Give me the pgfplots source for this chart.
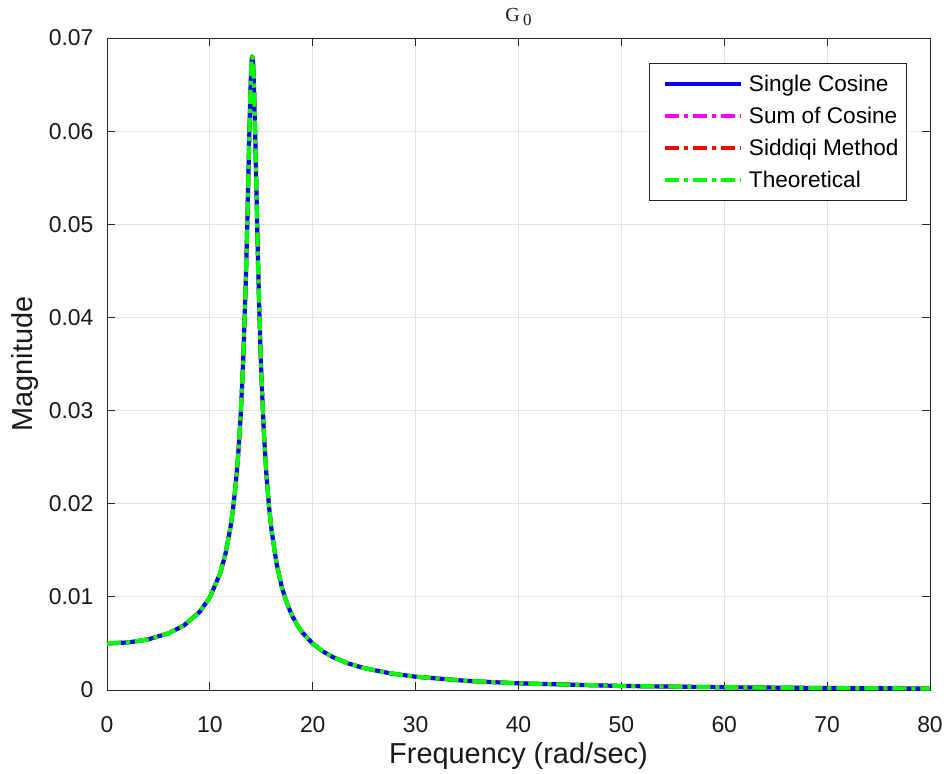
\documentclass[border=0pt]{standalone}
\usepackage{pgfplots}
\pgfplotsset{compat=1.18}
\usepackage{pgfplotstable}
\usepackage{fontspec}
\setmainfont{Liberation Sans}
\newfontfamily\titlefont{Liberation Serif}

% Magnitude of G_0 versus frequency, one column per identification method
\pgfplotstableread{
w      single    sumcos    siddiqi   theory
0      0.005000  0.005000  0.005000  0.005000
2      0.005102  0.005102  0.005102  0.005102
4      0.005433  0.005433  0.005433  0.005433
6      0.006093  0.006093  0.006093  0.006093
7.5    0.006946  0.006946  0.006946  0.006946
9      0.008378  0.008378  0.008378  0.008378
10     0.009946  0.009946  0.009946  0.009946
11     0.012528  0.012528  0.012528  0.012528
11.5   0.014535  0.014535  0.014535  0.014535
12     0.017430  0.017430  0.017430  0.017430
12.25  0.019404  0.019404  0.019404  0.019404
12.5   0.021910  0.021910  0.021910  0.021910
12.75  0.025179  0.025179  0.025179  0.025179
13     0.029568  0.029568  0.029568  0.029568
13.25  0.035644  0.035644  0.035644  0.035644
13.5   0.044187  0.044187  0.044187  0.044187
13.65  0.050728  0.050728  0.050728  0.050728
13.8   0.057990  0.057990  0.057990  0.057990
13.9   0.062613  0.062613  0.062613  0.062613
14     0.066230  0.066230  0.066230  0.066230
14.05  0.067380  0.067380  0.067380  0.067380
14.08  0.067806  0.067806  0.067806  0.067806
14.12  0.068040  0.068040  0.068040  0.068040
14.16  0.067866  0.067866  0.067866  0.067866
14.2   0.067300  0.067300  0.067300  0.067300
14.25  0.066081  0.066081  0.066081  0.066081
14.3   0.064370  0.064370  0.064370  0.064370
14.4   0.059927  0.059927  0.059927  0.059927
14.5   0.054840  0.054840  0.054840  0.054840
14.65  0.047354  0.047354  0.047354  0.047354
14.8   0.040850  0.040850  0.040850  0.040850
15     0.033930  0.033930  0.033930  0.033930
15.25  0.027609  0.027609  0.027609  0.027609
15.5   0.023060  0.023060  0.023060  0.023060
15.75  0.019694  0.019694  0.019694  0.019694
16     0.017120  0.017120  0.017120  0.017120
16.5   0.013466  0.013466  0.013466  0.013466
17     0.011020  0.011020  0.011020  0.011020
17.5   0.009277  0.009277  0.009277  0.009277
18     0.007974  0.007974  0.007974  0.007974
18.5   0.006967  0.006967  0.006967  0.006967
19     0.006165  0.006165  0.006165  0.006165
20     0.004973  0.004973  0.004973  0.004973
21     0.004132  0.004132  0.004132  0.004132
22     0.003510  0.003510  0.003510  0.003510
23.5   0.002832  0.002832  0.002832  0.002832
25     0.002349  0.002349  0.002349  0.002349
27.5   0.001795  0.001795  0.001795  0.001795
30     0.001427  0.001427  0.001427  0.001427
35     0.000975  0.000975  0.000975  0.000975
40     0.000714  0.000714  0.000714  0.000714
50     0.000435  0.000435  0.000435  0.000435
60     0.000294  0.000294  0.000294  0.000294
70     0.000213  0.000213  0.000213  0.000213
80     0.000161  0.000161  0.000161  0.000161
}\gzerodata

\definecolor{axgray}{gray}{0.15}
\definecolor{gridgray}{gray}{0.89}
\definecolor{cblue}{RGB}{0,0,255}
\definecolor{cmag}{RGB}{255,0,255}
\definecolor{cred}{RGB}{255,0,0}
\definecolor{cgreen}{RGB}{0,255,0}

\tikzset{dashdot/.style={dash pattern=on 14bp off 5bp on 4bp off 5bp}}

\begin{document}
\begin{tikzpicture}
\begin{axis}[
  scale only axis,
  width=823bp, height=652bp,
  xmin=0, xmax=80, ymin=0, ymax=0.07,
  xtick={0,10,20,30,40,50,60,70,80},
  ytick={0,0.01,0.02,0.03,0.04,0.05,0.06,0.07},
  yticklabels={0,0.01,0.02,0.03,0.04,0.05,0.06,0.07},
  scaled y ticks=false,
  /pgf/number format/assume math mode=true,
  grid=major,
  major grid style={color=gridgray, line width=0.8bp},
  axis line style={color=axgray, line width=0.8bp},
  tick style={color=axgray, line width=0.8bp},
  major tick length=8bp,
  tick align=inside,
  ticklabel style={font=\fontsize{23}{27}\selectfont, color=black!90},
  xticklabel style={yshift=-23bp},
  yticklabel style={xshift=-10bp},
  xlabel={Frequency (rad/sec)},
  ylabel={Magnitude},
  every axis x label/.style={at={(axis description cs:0.5,0)}, anchor=center, yshift=-66bp},
  every axis y label/.style={at={(axis description cs:-0.0996,0.5)}, anchor=center, rotate=90},
  label style={font=\fontsize{29}{33}\selectfont, color=black!90},
  title={\titlefont G\,\raisebox{-4bp}{\fontsize{17}{17}\selectfont 0}},
  every axis title/.style={at={(axis description cs:0.5,1)}, anchor=center, yshift=21bp, font=\fontsize{20}{24}\selectfont, color=black!90},
  legend style={at={(0.972,0.962)}, anchor=north east,
    draw=axgray, line width=0.8bp, fill=white,
    font=\fontsize{22.7}{26}\selectfont,
    inner xsep=6bp, inner ysep=10bp, row sep=10bp,
    nodes={inner sep=2bp}},
  legend cell align=left,
  legend image code/.code={\path (-7bp,0bp) (80bp,0bp); \draw[#1] (0bp,0bp) -- (76bp,0bp);},
]
\addplot[cblue, line width=4.2bp, line join=round] table[x=w, y=single] {\gzerodata};
\addlegendentry{Single Cosine}
\addplot[cmag, line width=3.4bp, line join=round, dashdot] table[x=w, y=sumcos] {\gzerodata};
\addlegendentry{Sum of Cosine}
\addplot[cred, line width=3.8bp, line join=round, dashdot] table[x=w, y=siddiqi] {\gzerodata};
\addlegendentry{Siddiqi Method}
\addplot[cgreen, line width=4.2bp, line join=round, dashdot] table[x=w, y=theory] {\gzerodata};
\addlegendentry{Theoretical}
\end{axis}
\pgfresetboundingbox
\path[use as bounding box] (current axis.south west) ++(-107bp,-84bp) rectangle ++(949bp,774bp);
\end{tikzpicture}
\end{document}
